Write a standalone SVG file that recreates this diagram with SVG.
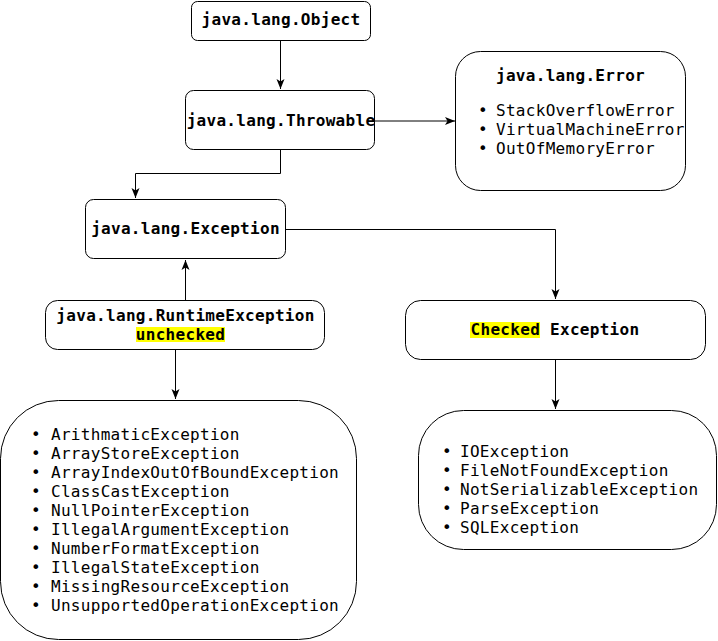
<svg xmlns="http://www.w3.org/2000/svg" width="718" height="641" viewBox="0 0 718 641">
<style>
.box{fill:#fff;stroke:#000;stroke-width:1}
.t{font-family:"DejaVu Sans Mono","Liberation Mono",monospace;font-size:16px;letter-spacing:0.3px;fill:#000}
.b{font-weight:bold}
.c{text-anchor:middle}
.ln{fill:none;stroke:#000;stroke-width:1}
.hl{fill:#ffff00}
</style>
<defs>
<marker id="ar" viewBox="0 0 10 10" refX="10" refY="5" markerWidth="10" markerHeight="10" markerUnits="userSpaceOnUse" orient="auto">
<path d="M0,1 L10,5 L0,9 L2.5,5 Z" fill="#000"/>
</marker>
</defs>
<g id="connectors">
<path class="ln" d="M280.5,40 V89" marker-end="url(#ar)"/>
<path class="ln" d="M375,121 H455" marker-end="url(#ar)"/>
<path class="ln" d="M280.5,150 V173.5 H135.5 V198" marker-end="url(#ar)"/>
<path class="ln" d="M286,229.5 H555.5 V299" marker-end="url(#ar)"/>
<path class="ln" d="M185.5,301 V260" marker-end="url(#ar)"/>
<path class="ln" d="M175.5,350 V399" marker-end="url(#ar)"/>
<path class="ln" d="M555.5,360 V409" marker-end="url(#ar)"/>
</g>
<g id="object">
<rect class="box" x="191.5" y="1.5" width="179" height="39" rx="6"/>
<text class="t b c" x="281" y="25">java.lang.Object</text>
</g>
<g id="throwable">
<rect class="box" x="185.5" y="90.5" width="189" height="59" rx="8"/>
<text class="t b c" x="281" y="126">java.lang.Throwable</text>
</g>
<g id="error">
<rect class="box" x="455.5" y="51.5" width="230" height="139" rx="25"/>
<text class="t b" x="496" y="81">java.lang.Error</text>
<text class="t" x="478" y="116">•</text><text class="t" x="496" y="116">StackOverflowError</text>
<text class="t" x="478" y="135">•</text><text class="t" x="496" y="135">VirtualMachineError</text>
<text class="t" x="478" y="154">•</text><text class="t" x="496" y="154">OutOfMemoryError</text>
</g>
<g id="exception">
<rect class="box" x="85.5" y="199.5" width="200" height="59" rx="8"/>
<text class="t b c" x="185.5" y="234">java.lang.Exception</text>
</g>
<g id="runtime">
<rect class="box" x="45.5" y="300.5" width="279" height="49" rx="12"/>
<rect class="hl" x="136" y="327" width="89" height="15"/>
<text class="t b c" x="185.5" y="321">java.lang.RuntimeException</text>
<text class="t b c" x="180.5" y="340">unchecked</text>
</g>
<g id="checked">
<rect class="box" x="405.5" y="300.5" width="300" height="59" rx="15"/>
<rect class="hl" x="470" y="322" width="70" height="16"/>
<text class="t b c" x="555" y="335">Checked Exception</text>
</g>
<g id="unchecked-list">
<rect class="box" x="0.5" y="400.5" width="356" height="239" rx="58"/>
<g class="t">
<text x="31" y="440">•</text><text x="51" y="440">ArithmaticException</text>
<text x="31" y="459">•</text><text x="51" y="459">ArrayStoreException</text>
<text x="31" y="478">•</text><text x="51" y="478">ArrayIndexOutOfBoundException</text>
<text x="31" y="497">•</text><text x="51" y="497">ClassCastException</text>
<text x="31" y="516">•</text><text x="51" y="516">NullPointerException</text>
<text x="31" y="535">•</text><text x="51" y="535">IllegalArgumentException</text>
<text x="31" y="554">•</text><text x="51" y="554">NumberFormatException</text>
<text x="31" y="573">•</text><text x="51" y="573">IllegalStateException</text>
<text x="31" y="592">•</text><text x="51" y="592">MissingResourceException</text>
<text x="31" y="611">•</text><text x="51" y="611">UnsupportedOperationException</text>
</g>
</g>
<g id="checked-list">
<rect class="box" x="418.5" y="410.5" width="298" height="139" rx="45"/>
<g class="t">
<text x="442" y="457">•</text><text x="460" y="457">IOException</text>
<text x="442" y="476">•</text><text x="460" y="476">FileNotFoundException</text>
<text x="442" y="495">•</text><text x="460" y="495">NotSerializableException</text>
<text x="442" y="514">•</text><text x="460" y="514">ParseException</text>
<text x="442" y="533">•</text><text x="460" y="533">SQLException</text>
</g>
</g>
</svg>
